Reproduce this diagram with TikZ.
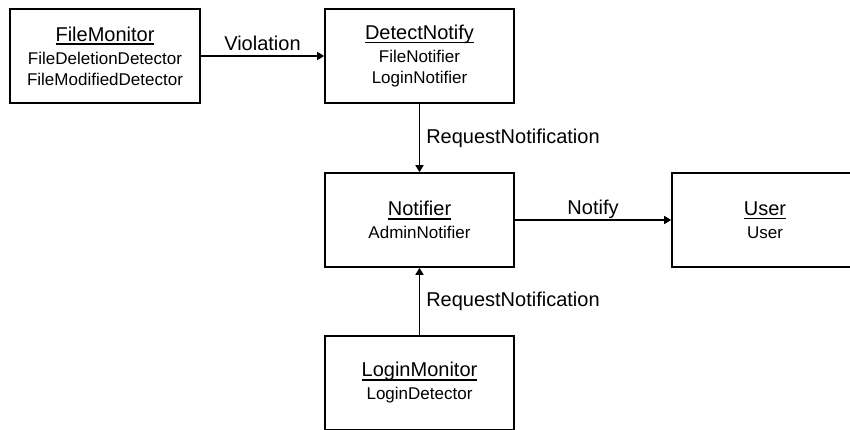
\documentclass[tikz,border=0pt]{standalone}
\usepackage{fontspec}
\setmainfont{Liberation Sans}
\usetikzlibrary{arrows.meta}
\tikzset{
  classbox/.style={draw,line width=1.6pt,minimum width=189pt,minimum height=94pt,
                   inner sep=0pt,align=center,font=\fontsize{17}{21}\selectfont},
  relation/.style={line width=1.5pt,-{Triangle[length=7pt,width=8pt]}},
  rellabel/.style={font=\fontsize{20}{24}\selectfont,inner sep=0pt}
}
\newcommand{\classname}[1]{{\fontsize{20}{24}\selectfont
  \setbox0\hbox{#1}\rlap{\vrule width\wd0 height -2.2pt depth 4pt}\box0}\\[2pt]}

\begin{document}
\begin{tikzpicture}[x=1pt,y=-1pt]
  \useasboundingbox (0,0) rectangle (850,429);
  \node[classbox,minimum width=190pt] (filemon) at (105,56)   {\classname{FileMonitor}FileDeletionDetector\\FileModifiedDetector};
  \node[classbox]                     (detect)  at (419.5,56) {\classname{DetectNotify}FileNotifier\\LoginNotifier};
  \node[classbox]                     (notif)   at (419.5,220){\classname{Notifier}AdminNotifier};
  \node[classbox,minimum width=186pt] (user)    at (765,220)  {\classname{User}User};
  \node[classbox]                     (loginmon)at (419.5,383){\classname{LoginMonitor}LoginDetector};
  \draw[relation] (filemon)  -- node[rellabel,above=5pt]{Violation} (detect);
  \draw[relation] (detect)   -- node[rellabel,right=6pt]{RequestNotification} (notif);
  \draw[relation] (notif)    -- node[rellabel,above=1pt]{Notify} (user);
  \draw[relation] (loginmon) -- node[rellabel,right=6pt]{RequestNotification} (notif);
\end{tikzpicture}
\end{document}
